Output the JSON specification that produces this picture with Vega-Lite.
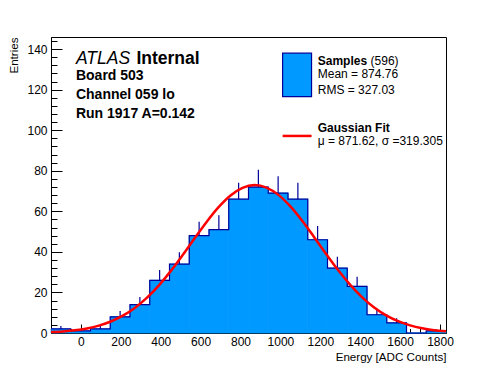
{
  "$schema": "https://vega.github.io/schema/vega-lite/v6.json",
  "width": 395,
  "height": 296,
  "autosize": {"type": "none"},
  "padding": {"left": 51, "top": 37, "right": 50, "bottom": 39},
  "background": "white",
  "config": {
    "view": {"stroke": "black", "strokeWidth": 1},
    "axis": {"domainColor": "black", "tickColor": "black", "labelColor": "black", "titleColor": "black", "labelFont": "Liberation Sans", "titleFont": "Liberation Sans", "grid": false, "labelFontSize": 12, "titleFontSize": 11.6, "titleFontWeight": "normal", "tickWidth": 1, "domainWidth": 1}
  },
  "datasets": {
    "bins": [
      {"lo": -150, "hi": -51, "c": -100.5, "n": 2, "e": 3.41},
      {"lo": -51, "hi": 48, "c": -1.5, "n": 1, "e": 2},
      {"lo": 48, "hi": 147, "c": 97.5, "n": 2, "e": 3.41},
      {"lo": 147, "hi": 246, "c": 196.5, "n": 8, "e": 10.83},
      {"lo": 246, "hi": 345, "c": 295.5, "n": 14, "e": 17.74},
      {"lo": 345, "hi": 444, "c": 394.5, "n": 26, "e": 31.1},
      {"lo": 444, "hi": 543, "c": 493.5, "n": 34, "e": 39.83},
      {"lo": 543, "hi": 642, "c": 592.5, "n": 48, "e": 54.93},
      {"lo": 642, "hi": 741, "c": 691.5, "n": 51, "e": 58.14},
      {"lo": 741, "hi": 840, "c": 790.5, "n": 66, "e": 74.12},
      {"lo": 840, "hi": 939, "c": 889.5, "n": 72, "e": 80.49},
      {"lo": 939, "hi": 1038, "c": 988.5, "n": 69, "e": 77.31},
      {"lo": 1038, "hi": 1137, "c": 1087.5, "n": 66, "e": 74.12},
      {"lo": 1137, "hi": 1236, "c": 1186.5, "n": 46, "e": 52.78},
      {"lo": 1236, "hi": 1335, "c": 1285.5, "n": 32, "e": 37.66},
      {"lo": 1335, "hi": 1434, "c": 1384.5, "n": 23, "e": 27.8},
      {"lo": 1434, "hi": 1533, "c": 1483.5, "n": 9, "e": 12},
      {"lo": 1533, "hi": 1632, "c": 1582.5, "n": 5, "e": 7.24},
      {"lo": 1632, "hi": 1731, "c": 1681.5, "n": 0, "e": 0},
      {"lo": 1731, "hi": 1830, "c": 1780.5, "n": 1, "e": 2}
    ],
    "steps": [
      {"x": -150, "n": 2}, {"x": -51, "n": 1}, {"x": 48, "n": 2}, {"x": 147, "n": 8},
      {"x": 246, "n": 14}, {"x": 345, "n": 26}, {"x": 444, "n": 34}, {"x": 543, "n": 48},
      {"x": 642, "n": 51}, {"x": 741, "n": 66}, {"x": 840, "n": 72}, {"x": 939, "n": 69},
      {"x": 1038, "n": 66}, {"x": 1137, "n": 46}, {"x": 1236, "n": 32}, {"x": 1335, "n": 23},
      {"x": 1434, "n": 9}, {"x": 1533, "n": 5}, {"x": 1632, "n": 0}, {"x": 1731, "n": 1},
      {"x": 1830, "n": 1}
    ],
    "fit": [
      {"x": -150, "y": 0.44}, {"x": -90, "y": 0.78}, {"x": -30, "y": 1.36}, {"x": 30, "y": 2.26},
      {"x": 90, "y": 3.65}, {"x": 150, "y": 5.68}, {"x": 210, "y": 8.53}, {"x": 270, "y": 12.36},
      {"x": 330, "y": 17.31}, {"x": 390, "y": 23.39}, {"x": 450, "y": 30.51}, {"x": 510, "y": 38.42},
      {"x": 570, "y": 46.7}, {"x": 630, "y": 54.8}, {"x": 690, "y": 62.07}, {"x": 750, "y": 67.86},
      {"x": 810, "y": 71.62}, {"x": 870, "y": 72.96}, {"x": 930, "y": 71.75}, {"x": 990, "y": 68.12},
      {"x": 1050, "y": 62.42}, {"x": 1110, "y": 55.22}, {"x": 1170, "y": 47.15}, {"x": 1230, "y": 38.87},
      {"x": 1290, "y": 30.92}, {"x": 1350, "y": 23.75}, {"x": 1410, "y": 17.61}, {"x": 1470, "y": 12.6},
      {"x": 1530, "y": 8.71}, {"x": 1590, "y": 5.81}, {"x": 1650, "y": 3.74}, {"x": 1710, "y": 2.32},
      {"x": 1770, "y": 1.39}, {"x": 1830, "y": 0.81}
    ],
    "one": [{}]
  },
  "resolve": {"axis": {"x": "independent", "y": "independent"}},
  "layer": [
    {
      "data": {"name": "bins"},
      "mark": {"type": "rect", "fill": "#0099ff", "stroke": "#0099ff", "strokeWidth": 0.8},
      "encoding": {
        "x": {"field": "lo", "type": "quantitative", "scale": {"domain": [-150, 1830], "nice": false, "zero": false},
          "axis": {"values": [0, 200, 400, 600, 800, 1000, 1200, 1400, 1600, 1800], "format": "d", "tickSize": -9, "labelPadding": 12, "labelFlush": false, "title": "Energy [ADC Counts]", "titleAnchor": "end", "titleAlign": "right", "titleX": 395, "titleY": 27, "titleBaseline": "alphabetic"}},
        "x2": {"field": "hi"},
        "y": {"field": "n", "type": "quantitative", "scale": {"domain": [0, 146], "nice": false, "zero": true},
          "axis": {"values": [0, 20, 40, 60, 80, 100, 120, 140], "format": "d", "tickSize": -11, "labelPadding": 15, "labelFlush": false, "title": "Entries", "titleAnchor": "end", "titleAngle": 270, "titleAlign": "right", "titleBaseline": "top", "titleX": -43, "titleY": 0}},
        "y2": {"datum": 0}
      }
    },
    {
      "data": {"name": "steps"},
      "mark": {"type": "line", "interpolate": "step-after", "color": "#000099", "strokeWidth": 1.2},
      "encoding": {
        "x": {"field": "x", "type": "quantitative",
          "axis": {"orient": "bottom", "values": [-100, -50, 50, 100, 150, 250, 300, 350, 450, 500, 550, 650, 700, 750, 850, 900, 950, 1050, 1100, 1150, 1250, 1300, 1350, 1450, 1500, 1550, 1650, 1700, 1750], "tickSize": -4.5, "labels": false, "domain": false, "title": null}},
        "y": {"field": "n", "type": "quantitative",
          "axis": {"orient": "left", "values": [4, 8, 12, 16, 24, 28, 32, 36, 44, 48, 52, 56, 64, 68, 72, 76, 84, 88, 92, 96, 104, 108, 112, 116, 124, 128, 132, 136, 144], "tickSize": -6, "labels": false, "domain": false, "title": null}}
      }
    },
    {
      "data": {"name": "bins"},
      "mark": {"type": "rule", "color": "#000099", "strokeWidth": 1.2},
      "encoding": {
        "x": {"field": "c", "type": "quantitative", "axis": null},
        "y": {"field": "n", "type": "quantitative", "axis": null},
        "y2": {"field": "e"}
      }
    },
    {
      "data": {"name": "fit"},
      "mark": {"type": "line", "interpolate": "monotone", "color": "#ff0000", "strokeWidth": 2.5},
      "encoding": {
        "x": {"field": "x", "type": "quantitative", "axis": null},
        "y": {"field": "y", "type": "quantitative", "axis": null}
      }
    },
    {
      "data": {"name": "one"},
      "mark": {"type": "rect", "fill": "#0099ff", "stroke": "#000099", "strokeWidth": 1.2},
      "encoding": {
        "x": {"datum": 1011, "type": "quantitative", "axis": null},
        "x2": {"datum": 1156},
        "y": {"datum": 138, "type": "quantitative", "axis": null},
        "y2": {"datum": 116.6}
      }
    },
    {
      "data": {"name": "one"},
      "mark": {"type": "rule", "color": "#ff0000", "strokeWidth": 2.5},
      "encoding": {
        "x": {"datum": 1011, "type": "quantitative", "axis": null},
        "x2": {"datum": 1156},
        "y": {"datum": 97.2, "type": "quantitative", "axis": null}
      }
    },
    {
      "data": {"name": "one"},
      "mark": {"type": "text", "font": "Liberation Sans", "fontSize": 17.5, "fontStyle": "italic", "align": "left", "baseline": "alphabetic", "color": "black"},
      "encoding": {
        "x": {"datum": -25, "type": "quantitative", "axis": null},
        "y": {"datum": 132.7, "type": "quantitative", "axis": null},
        "text": {"value": "ATLAS"}
      }
    },
    {
      "data": {"name": "one"},
      "mark": {"type": "text", "font": "Liberation Sans", "fontSize": 17.5, "fontWeight": "bold", "align": "left", "baseline": "alphabetic", "color": "black"},
      "encoding": {
        "x": {"datum": 278, "type": "quantitative", "axis": null},
        "y": {"datum": 132.7, "type": "quantitative", "axis": null},
        "text": {"value": "Internal"}
      }
    },
    {
      "data": {"name": "one"},
      "mark": {"type": "text", "font": "Liberation Sans", "fontSize": 14, "fontWeight": "bold", "align": "left", "baseline": "alphabetic", "lineHeight": 19, "color": "black"},
      "encoding": {
        "x": {"datum": -25, "type": "quantitative", "axis": null},
        "y": {"datum": 124.8, "type": "quantitative", "axis": null},
        "text": {"value": ["Board 503", "Channel 059 lo", "Run 1917 A=0.142"]}
      }
    },
    {
      "data": {"name": "one"},
      "mark": {"type": "text", "font": "Liberation Sans", "fontSize": 12, "fontWeight": "bold", "align": "left", "baseline": "alphabetic", "color": "black"},
      "encoding": {
        "x": {"datum": 1187, "type": "quantitative", "axis": null},
        "y": {"datum": 132.2, "type": "quantitative", "axis": null},
        "text": {"value": "Samples"}
      }
    },
    {
      "data": {"name": "one"},
      "mark": {"type": "text", "font": "Liberation Sans", "fontSize": 12, "align": "left", "baseline": "alphabetic", "color": "black"},
      "encoding": {
        "x": {"datum": 1452, "type": "quantitative", "axis": null},
        "y": {"datum": 132.2, "type": "quantitative", "axis": null},
        "text": {"value": "(596)"}
      }
    },
    {
      "data": {"name": "one"},
      "mark": {"type": "text", "font": "Liberation Sans", "fontSize": 12, "align": "left", "baseline": "alphabetic", "lineHeight": 15.7, "color": "black"},
      "encoding": {
        "x": {"datum": 1187, "type": "quantitative", "axis": null},
        "y": {"datum": 125.7, "type": "quantitative", "axis": null},
        "text": {"value": ["Mean = 874.76", "RMS = 327.03"]}
      }
    },
    {
      "data": {"name": "one"},
      "mark": {"type": "text", "font": "Liberation Sans", "fontSize": 12, "fontWeight": "bold", "align": "left", "baseline": "alphabetic", "color": "black"},
      "encoding": {
        "x": {"datum": 1187, "type": "quantitative", "axis": null},
        "y": {"datum": 99.0, "type": "quantitative", "axis": null},
        "text": {"value": "Gaussian Fit"}
      }
    },
    {
      "data": {"name": "one"},
      "mark": {"type": "text", "font": "Liberation Sans", "fontSize": 12, "align": "left", "baseline": "alphabetic", "color": "black"},
      "encoding": {
        "x": {"datum": 1187, "type": "quantitative", "axis": null},
        "y": {"datum": 92.7, "type": "quantitative", "axis": null},
        "text": {"value": "μ = 871.62, σ =319.305"}
      }
    }
  ]
}
